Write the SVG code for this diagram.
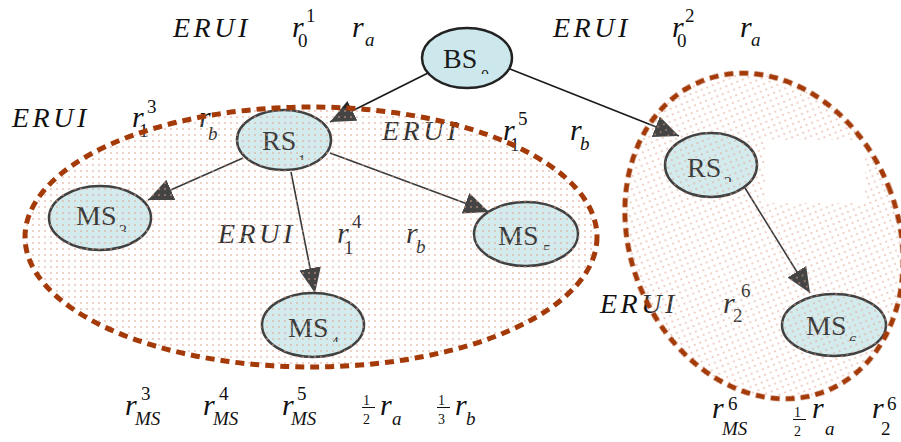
<svg xmlns="http://www.w3.org/2000/svg" width="901" height="442" viewBox="0 0 901 442" style="font-family:'Liberation Serif','Times New Roman',Times,'Noto Serif','FreeSerif','DejaVu Serif',serif">
<style>
text{font-family:"Liberation Serif","Times New Roman",Times,"Noto Serif","FreeSerif","DejaVu Serif",serif}
.t{fill:#111}
.i{font-style:italic}
.e{font-size:28px;letter-spacing:3.5px}
.r{font-size:30px}
.d{font-size:19px}
.s{font-size:19px}
.f{font-size:14px}
.n{font-size:28px;fill:#1a1a1a}
.ns{font-size:16px;fill:#1a1a1a}
.node{fill:#cde8ec;stroke:#222;stroke-width:2.5}
.edge{stroke:#1a1a1a;stroke-width:1.6;fill:none;marker-end:url(#arr)}
.reg{fill:none;stroke:#a33a08;stroke-width:5;stroke-dasharray:9 6}
</style>
<defs>
<marker id="arr" markerUnits="userSpaceOnUse" markerWidth="26" markerHeight="24" refX="25" refY="11" orient="auto">
<path d="M0,0 L25,11 L0,22 Z" fill="#262626"/>
</marker>
<pattern id="dots" width="6" height="6" patternUnits="userSpaceOnUse">
<circle cx="3" cy="3" r="1.1" fill="#dca08c" fill-opacity="0.6"/>
</pattern>
<mask id="rm">
<rect x="0" y="0" width="901" height="442" fill="#fff"/>
<rect x="765" y="140" width="100" height="63" fill="#000"/>
</mask>
<clipPath id="c0"><rect x="470" y="60" width="30" height="14"/></clipPath>
<clipPath id="c1"><rect x="295" y="145" width="20" height="15"/></clipPath>
<clipPath id="c2"><rect x="722" y="167" width="20" height="15"/></clipPath>
<clipPath id="c3"><rect x="115" y="215" width="20" height="17"/></clipPath>
<clipPath id="c4"><rect x="328" y="327" width="20" height="15"/></clipPath>
<clipPath id="c5"><rect x="540" y="235" width="20" height="15"/></clipPath>
<clipPath id="c6"><rect x="846" y="326" width="20" height="15"/></clipPath>
</defs>
<rect width="901" height="442" fill="#fff"/>

<g id="labels">
<text class="t i e" x="173" y="37">ERUI</text>
<text class="t i r" x="292" y="37">r</text><text class="t d" x="306" y="22">1</text><text class="t d" x="298" y="47">0</text>
<text class="t i r" x="352" y="37">r</text><text class="t i s" x="365" y="46">a</text>

<text class="t i e" x="553" y="37">ERUI</text>
<text class="t i r" x="672" y="37">r</text><text class="t d" x="685" y="22">2</text><text class="t d" x="677" y="47">0</text>
<text class="t i r" x="740" y="37">r</text><text class="t i s" x="751" y="46">a</text>

<text class="t i e" x="12" y="127">ERUI</text>
<text class="t i r" x="132" y="127">r</text><text class="t d" x="147" y="113">3</text><text class="t d" x="139" y="137">1</text>
<text class="t i r" x="199" y="127">r</text><text class="t i s" x="208" y="140">b</text>

<text class="t i e" x="382" y="140">ERUI</text>
<text class="t i r" x="503" y="140">r</text><text class="t d" x="518" y="125">5</text><text class="t d" x="510" y="151">1</text>
<text class="t i r" x="570" y="140">r</text><text class="t i s" x="580" y="150">b</text>

<text class="t i e" x="218" y="243">ERUI</text>
<text class="t i r" x="337" y="243">r</text><text class="t d" x="352" y="228">4</text><text class="t d" x="344" y="254">1</text>
<text class="t i r" x="406" y="243">r</text><text class="t i s" x="416" y="253">b</text>

<text class="t i e" x="600" y="313">ERUI</text>
<text class="t i r" x="723" y="313">r</text><text class="t d" x="741" y="297">6</text><text class="t d" x="733" y="322">2</text>

<text class="t i r" x="125" y="415">r</text><text class="t d" x="141" y="400">3</text><text class="t i s" x="135" y="425">MS</text>
<text class="t i r" x="203" y="415">r</text><text class="t d" x="219" y="400">4</text><text class="t i s" x="213" y="425">MS</text>
<text class="t i r" x="282" y="415">r</text><text class="t d" x="297" y="400">5</text><text class="t i s" x="291" y="425">MS</text>
<text class="t f" x="363" y="405">1</text><line x1="362" y1="407.5" x2="375" y2="407.5" stroke="#111" stroke-width="1"/><text class="t f" x="363" y="424">2</text>
<text class="t i r" x="380" y="415">r</text><text class="t i s" x="392" y="425">a</text>
<text class="t f" x="438" y="405">1</text><line x1="437" y1="407.5" x2="450" y2="407.5" stroke="#111" stroke-width="1"/><text class="t f" x="438" y="424">3</text>
<text class="t i r" x="455" y="415">r</text><text class="t i s" x="466" y="425">b</text>

<text class="t i r" x="712" y="418">r</text><text class="t d" x="728" y="410">6</text><text class="t i s" x="722" y="435">MS</text>
<text class="t f" x="794" y="417">1</text><line x1="793" y1="419.5" x2="806" y2="419.5" stroke="#111" stroke-width="1"/><text class="t f" x="794" y="436">2</text>
<text class="t i r" x="812" y="418">r</text><text class="t i s" x="825" y="435">a</text>
<text class="t i r" x="872" y="418">r</text><text class="t d" x="887" y="410">6</text><text class="t d" x="881" y="435">2</text>
</g>

<g id="BS0"><ellipse class="node" cx="467" cy="58" rx="45" ry="30"/><text class="n" x="443" y="68">BS</text><text class="ns" x="481" y="81" clip-path="url(#c0)">0</text></g>
<g id="RS1"><ellipse class="node" cx="284" cy="140" rx="47" ry="30"/><text class="n" x="262" y="150">RS</text><text class="ns" x="298" y="166" clip-path="url(#c1)">1</text></g>
<g id="RS2"><ellipse class="node" cx="711" cy="165" rx="46" ry="32"/><text class="n" x="687" y="177">RS</text><text class="ns" x="724" y="188" clip-path="url(#c2)">2</text></g>
<g id="MS3"><ellipse class="node" cx="100" cy="218" rx="51" ry="32"/><text class="n" x="76" y="225">MS</text><text class="ns" x="119" y="236" clip-path="url(#c3)">3</text></g>
<g id="MS4"><ellipse class="node" cx="313" cy="325" rx="51" ry="32"/><text class="n" x="288" y="337">MS</text><text class="ns" x="331" y="348" clip-path="url(#c4)">4</text></g>
<g id="MS5"><ellipse class="node" cx="526" cy="234" rx="52" ry="32"/><text class="n" x="498" y="245">MS</text><text class="ns" x="543" y="256" clip-path="url(#c5)">5</text></g>
<g id="MS6"><ellipse class="node" cx="834" cy="325" rx="52" ry="31"/><text class="n" x="806" y="335">MS</text><text class="ns" x="849" y="347" clip-path="url(#c6)">6</text></g>

<g id="connectors">
<line class="edge" x1="428" y1="73" x2="330" y2="122"/>
<line class="edge" x1="510" y1="69" x2="679" y2="136"/>
<line class="edge" x1="243" y1="158" x2="148" y2="200"/>
<line class="edge" x1="330" y1="153" x2="489" y2="212"/>
<line class="edge" x1="291" y1="172" x2="315" y2="293"/>
<line class="edge" x1="745" y1="188" x2="810" y2="293"/>
</g>

<g id="regions">
<ellipse cx="311" cy="237" rx="286" ry="130" fill="#fff" fill-opacity="0.14"/>
<ellipse cx="0" cy="0" rx="134" ry="167" transform="translate(764 236) rotate(-22)" fill="#fff" fill-opacity="0.14"/>
<g mask="url(#rm)">
<ellipse cx="311" cy="237" rx="286" ry="130" fill="url(#dots)"/>
<ellipse cx="0" cy="0" rx="134" ry="167" transform="translate(764 236) rotate(-22)" fill="url(#dots)"/>
</g>
<ellipse class="reg" cx="311" cy="237" rx="286" ry="130"/>
<ellipse class="reg" cx="0" cy="0" rx="134" ry="167" transform="translate(764 236) rotate(-22)"/>
</g>
</svg>
